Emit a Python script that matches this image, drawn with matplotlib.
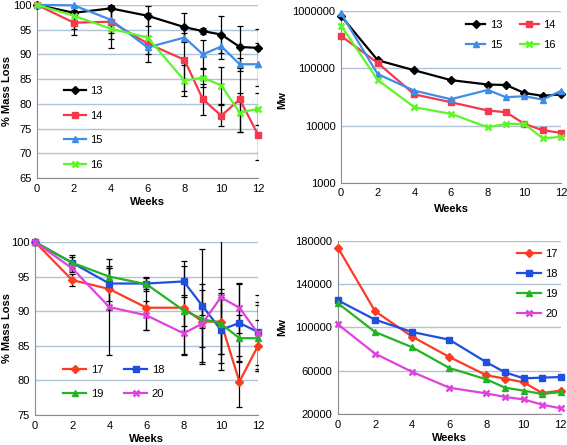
import matplotlib
matplotlib.use("Agg")
import matplotlib.pyplot as plt
from matplotlib import ticker

plt.rcParams['font.family'] = ['Liberation Sans', 'DejaVu Sans']
plt.rcParams['font.size'] = 8

weeks = [0, 2, 4, 6, 8, 9, 10, 11, 12]

# top-left: % mass loss, samples 13-16
ml13 = [100, 98.4, 99.3, 97.8, 95.5, 94.7, 94.0, 91.5, 91.3]
err13 = [0, 0.4, 0.4, 2.0, 2.8, 0.6, 3.8, 4.2, 3.8]
ml14 = [100, 96.4, 96.6, 92.2, 88.9, 80.9, 77.6, 80.9, 73.7]
err14 = [0, 2.5, 3.4, 0.8, 6.3, 3.2, 2.1, 6.5, 5.0]
ml15 = [100, 99.9, 97.0, 91.4, 93.4, 90.0, 91.6, 88.0, 88.0]
err15 = [0, 0.3, 2.7, 1.4, 1.0, 3.0, 2.6, 1.3, 4.3]
ml16 = [100, 97.8, 95.2, 93.4, 84.7, 85.3, 83.7, 78.2, 79.0]
err16 = [0, 2.6, 3.9, 4.9, 3.2, 2.0, 3.7, 3.9, 3.2]

# top-right: Mw, samples 13-16
mw13 = [820000, 138000, 92000, 62000, 52000, 51000, 37000, 33000, 35000]
mw14 = [366000, 124000, 35000, 25500, 18300, 17100, 10700, 8300, 7450]
mw15 = [910000, 79000, 40600, 28800, 41800, 31200, 32500, 28400, 40200]
mw16 = [555000, 62600, 20900, 16000, 9350, 10700, 10700, 6000, 6340]

# bottom-left: % mass loss, samples 17-20
ml17 = [100, 94.5, 93.2, 90.5, 90.5, 88.5, 88.5, 79.8, 85.0]
err17 = [0, 0.9, 3.0, 3.2, 6.8, 1.0, 4.7, 3.7, 3.7]
ml18 = [100, 97.0, 94.0, 94.0, 94.3, 90.8, 87.3, 88.3, 87.0]
err18 = [0, 1.1, 2.5, 0.8, 2.2, 8.2, 4.8, 5.6, 5.4]
ml19 = [100, 97.0, 95.0, 93.9, 90.1, 88.9, 88.2, 86.1, 86.1]
err19 = [0, 0.8, 1.2, 1.0, 2.3, 4.1, 4.4, 3.3, 4.8]
ml20 = [100, 96.2, 90.6, 89.4, 86.8, 88.2, 92.0, 90.5, 86.8]
err20 = [0, 0.5, 7.0, 2.1, 3.0, 5.8, 10.5, 3.6, 4.6]

# bottom-right: Mw, samples 17-20
mw17 = [173800, 115000, 91500, 72700, 55800, 52700, 49300, 39400, 41600]
mw18 = [125100, 107200, 95800, 88700, 67800, 58500, 53000, 53600, 54200]
mw19 = [122400, 95800, 81700, 62500, 52000, 44300, 41600, 38500, 40300]
mw20 = [102900, 75800, 58900, 44300, 39000, 35700, 33500, 28600, 25200]

top_colors = ['#000000', '#f23a4c', '#3d8ee8', '#5ef52a']
top_markers = ['D', 's', '^', 'x']
bot_colors = ['#fa3c22', '#1f4fe0', '#22b422', '#dd44dd']
bot_markers = ['D', 's', '^', 'x']

grid_c = '#afc2d6'
spine_c = '#8c8c8c'


def style(ax):
    for s in ['top', 'right']:
        ax.spines[s].set_visible(False)
    for s in ['left', 'bottom']:
        ax.spines[s].set_color(spine_c)
    ax.yaxis.grid(True, color=grid_c, linewidth=1)
    ax.set_axisbelow(True)
    ax.tick_params(length=0, pad=4, labelsize=8)
    ax.set_xlim(0, 12)
    ax.set_xticks(range(0, 13, 2))
    ax.set_xlabel("Weeks", fontweight='bold', fontsize=8)


def draw(ax, ys, errs, colors, markers, labels):
    if errs is not None:
        for y, e in zip(ys, errs):
            ax.errorbar(weeks, y, yerr=e, fmt='none', ecolor='black',
                        elinewidth=0.9, capsize=2.5, capthick=0.9, zorder=2)
    lines = []
    for y, c, m, lab in zip(ys, colors, markers, labels):
        ms = 4 if m == 'D' else 5
        mew = 1.8 if m == 'x' else 1
        ln, = ax.plot(weeks, y, color=c, marker=m, markersize=ms, mew=mew,
                      lw=1.6, label=lab, clip_on=False, zorder=3)
        lines.append(ln)
    return lines


fig = plt.figure(figsize=(5.67, 4.45), dpi=100)

# top-left
ax1 = fig.add_axes([0.0653, 0.600, 0.390, 0.389])
style(ax1)
draw(ax1, [ml13, ml14, ml15, ml16], [err13, err14, err15, err16],
     top_colors, top_markers, ['13', '14', '15', '16'])
ax1.set_ylim(65, 100)
ax1.set_yticks(range(65, 101, 5))
ax1.set_ylabel("% Mass Loss", fontweight='bold', fontsize=8)
ax1.yaxis.set_label_coords(-0.113, 0.5)
ax1.xaxis.set_label_coords(0.5, -0.11)
ax1.legend(loc='upper left', bbox_to_anchor=(0.12, 0.53), frameon=False,
           borderpad=0, borderaxespad=0, handlelength=2.0, handletextpad=0.4,
           labelspacing=1.3, fontsize=8)

# top-right
ax2 = fig.add_axes([0.6014, 0.589, 0.388, 0.3865])
style(ax2)
ax2.set_yscale('log')
h = draw(ax2, [mw13, mw14, mw15, mw16], None,
         top_colors, top_markers, ['13', '14', '15', '16'])
ax2.set_ylim(1000, 1000000)
ax2.set_yticks([1000, 10000, 100000, 1000000])
ax2.yaxis.set_major_formatter(ticker.FuncFormatter(lambda v, p: f"{int(v)}"))
ax2.yaxis.set_minor_locator(ticker.NullLocator())
ax2.set_ylabel("Mw", fontweight='bold', fontsize=8)
ax2.yaxis.set_label_coords(-0.245, 0.48)
ax2.xaxis.set_label_coords(0.5, -0.122)
order = [0, 2, 1, 3]
ax2.legend([h[i] for i in order], [h[i].get_label() for i in order],
           loc='upper left', bbox_to_anchor=(0.57, 0.945), ncol=2, frameon=False,
           borderpad=0, borderaxespad=0, handlelength=1.7, handletextpad=0.4,
           labelspacing=0.85, columnspacing=1.6, fontsize=8)

# bottom-left
ax3 = fig.add_axes([0.0617, 0.0674, 0.3933, 0.3888])
style(ax3)
h = draw(ax3, [ml17, ml18, ml19, ml20], [err17, err18, err19, err20],
         bot_colors, bot_markers, ['17', '18', '19', '20'])
ax3.set_ylim(75, 100)
ax3.set_yticks(range(75, 101, 5))
ax3.set_ylabel("% Mass Loss", fontweight='bold', fontsize=8)
ax3.yaxis.set_label_coords(-0.103, 0.5)
ax3.xaxis.set_label_coords(0.5, -0.11)
ax3.legend([h[i] for i in order], [h[i].get_label() for i in order],
           loc='upper left', bbox_to_anchor=(0.125, 0.29), ncol=2, frameon=False,
           borderpad=0, borderaxespad=0, handlelength=2.1, handletextpad=0.4,
           labelspacing=1.3, columnspacing=1.9, fontsize=8)

# bottom-right
ax4 = fig.add_axes([0.596, 0.0697, 0.393, 0.3888])
style(ax4)
draw(ax4, [mw17, mw18, mw19, mw20], None,
     bot_colors, bot_markers, ['17', '18', '19', '20'])
ax4.set_ylim(20000, 180000)
ax4.set_yticks(range(20000, 180001, 40000))
ax4.set_ylabel("Mw", fontweight='bold', fontsize=8)
ax4.yaxis.set_label_coords(-0.229, 0.5)
ax4.xaxis.set_label_coords(0.5, -0.11)
ax4.legend(loc='upper left', bbox_to_anchor=(0.805, 0.955), frameon=False,
           borderpad=0, borderaxespad=0, handlelength=2.1, handletextpad=0.4,
           labelspacing=0.9, fontsize=8)

fig.savefig("out.png", dpi=100)
